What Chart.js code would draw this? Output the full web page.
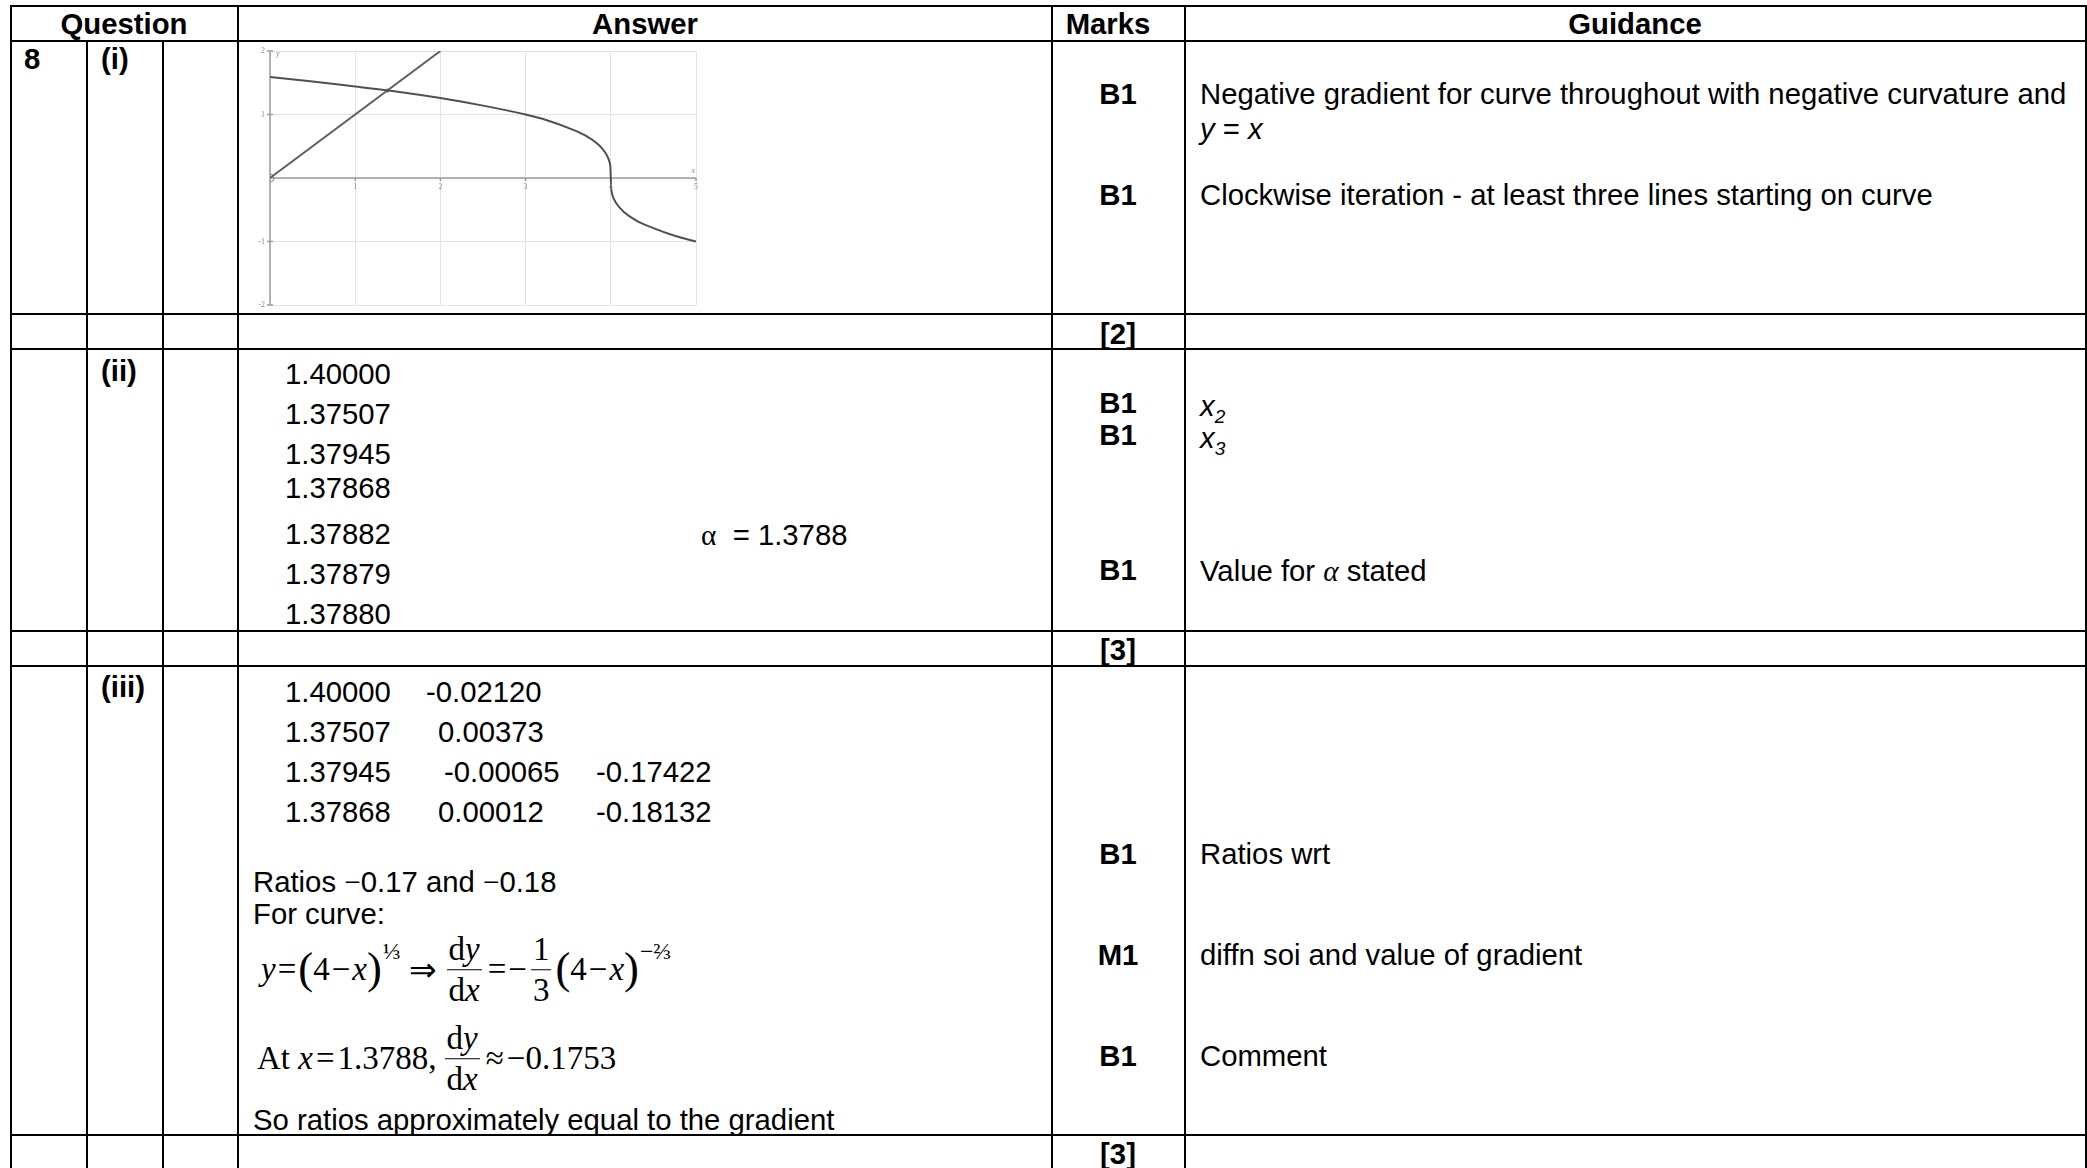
<!DOCTYPE html>
<html>
<head>
<meta charset="utf-8">
<script src="https://cdn.jsdelivr.net/npm/chart.js@4.4.0/dist/chart.umd.min.js"></script>
<style>
  html, body { margin: 0; padding: 0; background: #fff; }
  body { width: 2087px; height: 1168px; position: relative; overflow: hidden; }
  .h { position: absolute; height: 2px; background: #000; }
  .v { position: absolute; width: 2px; background: #000; }
  .t { position: absolute; font: 29.3px "Liberation Sans", Arial, sans-serif; line-height: 33px;
       margin-top: -16px; white-space: pre; color: #000; }
  .c { transform: translateX(-50%); }
  .b { font-weight: bold; }
  .gr { font-family: "Liberation Serif", "Times New Roman", serif; }
  .eq { position: absolute; font: 33px "Liberation Serif", "Times New Roman", serif; white-space: nowrap;
        transform: translateY(-50%); display: flex; align-items: center; }
  .frac { display: inline-flex; flex-direction: column; align-items: center; margin: 0 4px; line-height: 1.22; }
  .frac .n { border-bottom: 1.5px solid #000; padding: 0 2px; }
  .frac .d { padding: 0 2px; }
  .big { font-size: 1.35em; line-height: 1; position: relative; top: -0.03em; }
  .op { margin: 0 2px; }
  .sup { font-size: 0.72em; position: relative; top: -0.75em; margin-left: 1px; }
  #chartBox { position: absolute; left: 240px; top: 44px; width: 470px; height: 266px; }
</style>
</head>
<body>

<!-- table rules -->
<div class="h" style="left:11px; width:2076px; top:5px"></div>
<div class="h" style="left:11px; width:2076px; top:40px"></div>
<div class="h" style="left:11px; width:2076px; top:313px"></div>
<div class="h" style="left:11px; width:2076px; top:348px"></div>
<div class="h" style="left:11px; width:2076px; top:630px"></div>
<div class="h" style="left:11px; width:2076px; top:665px"></div>
<div class="h" style="left:11px; width:2076px; top:1134px"></div>

<div class="v" style="left:10px; top:5px; height:1163px"></div>
<div class="v" style="left:86px; top:40px; height:1128px"></div>
<div class="v" style="left:162px; top:40px; height:1128px"></div>
<div class="v" style="left:237px; top:5px; height:1163px"></div>
<div class="v" style="left:1051px; top:5px; height:1163px"></div>
<div class="v" style="left:1184px; top:5px; height:1163px"></div>
<div class="v" style="left:2085px; top:5px; height:1163px"></div>

<!-- header -->
<div class="t b c" style="left:124px; top:23px">Question</div>
<div class="t b c" style="left:645px; top:23px">Answer</div>
<div class="t b c" style="left:1108px; top:23px">Marks</div>
<div class="t b c" style="left:1635px; top:23px">Guidance</div>

<!-- 8 (i) -->
<div class="t b" style="left:24px; top:58px">8</div>
<div class="t b" style="left:101px; top:58px">(i)</div>
<div id="chartBox"><canvas id="graph" width="470" height="266"></canvas></div>
<div class="t b c" style="left:1118px; top:93px">B1</div>
<div class="t b c" style="left:1118px; top:194px">B1</div>
<div class="t" style="left:1200px; top:93px">Negative gradient for curve throughout with negative curvature and</div>
<div class="t" style="left:1200px; top:128px"><i>y</i> = <i>x</i></div>
<div class="t" style="left:1200px; top:194px">Clockwise iteration - at least three lines starting on curve</div>
<div class="t b c" style="left:1118px; top:333px">[2]</div>

<!-- (ii) -->
<div class="t b" style="left:101px; top:370px">(ii)</div>
<div class="t" style="left:285px; top:373px">1.40000</div>
<div class="t" style="left:285px; top:413px">1.37507</div>
<div class="t" style="left:285px; top:453px">1.37945</div>
<div class="t" style="left:285px; top:487px">1.37868</div>
<div class="t" style="left:285px; top:533px">1.37882</div>
<div class="t" style="left:285px; top:573px">1.37879</div>
<div class="t" style="left:285px; top:613px">1.37880</div>
<div class="t" style="left:701px; top:534px"><span class="gr">α</span>  = 1.3788</div>
<div class="t b c" style="left:1118px; top:402px">B1</div>
<div class="t b c" style="left:1118px; top:434px">B1</div>
<div class="t b c" style="left:1118px; top:569px">B1</div>
<div class="t" style="left:1200px; top:405px"><i>x<sub style="font-size:0.65em">2</sub></i></div>
<div class="t" style="left:1200px; top:437px"><i>x<sub style="font-size:0.65em">3</sub></i></div>
<div class="t" style="left:1200px; top:570px">Value for <i class="gr">α</i> stated</div>
<div class="t b c" style="left:1118px; top:649px">[3]</div>

<!-- (iii) -->
<div class="t b" style="left:101px; top:686px">(iii)</div>
<div class="t" style="left:285px; top:691px">1.40000</div>
<div class="t" style="left:426px; top:691px">-0.02120</div>
<div class="t" style="left:285px; top:731px">1.37507</div>
<div class="t" style="left:438px; top:731px">0.00373</div>
<div class="t" style="left:285px; top:771px">1.37945</div>
<div class="t" style="left:444px; top:771px">-0.00065</div>
<div class="t" style="left:596px; top:771px">-0.17422</div>
<div class="t" style="left:285px; top:811px">1.37868</div>
<div class="t" style="left:438px; top:811px">0.00012</div>
<div class="t" style="left:596px; top:811px">-0.18132</div>
<div class="t" style="left:253px; top:881px">Ratios <span class="gr">−</span>0.17 and <span class="gr">−</span>0.18</div>
<div class="t" style="left:253px; top:913px">For curve:</div>
<div class="eq" style="left:261px; top:970px">
  <i>y</i><span class="op">=</span><span class="big">(</span>4<span class="op">−</span><i>x</i><span class="big">)</span><span class="sup">⅓</span><span class="op" style="margin:0 6px 0 8px">⇒</span><span class="frac"><span class="n">d<i>y</i></span><span class="d">d<i>x</i></span></span><span class="op">=</span>−<span class="frac"><span class="n">1</span><span class="d">3</span></span><span class="big">(</span>4<span class="op">−</span><i>x</i><span class="big">)</span><span class="sup">−⅔</span>
</div>
<div class="eq" style="left:257px; top:1059px">
  At&nbsp;<i>x</i><span class="op" style="margin:0 3px">=</span>1.3788,<span class="frac" style="margin-left:8px"><span class="n">d<i>y</i></span><span class="d">d<i>x</i></span></span><span style="margin:0 3px 0 2px">≈</span>−0.1753
</div>
<div class="t" style="left:253px; top:1119px">So ratios approximately equal to the gradient</div>
<div class="t b c" style="left:1118px; top:853px">B1</div>
<div class="t b c" style="left:1118px; top:954px">M1</div>
<div class="t b c" style="left:1118px; top:1055px">B1</div>
<div class="t" style="left:1200px; top:853px">Ratios wrt</div>
<div class="t" style="left:1200px; top:954px">diffn soi and value of gradient</div>
<div class="t" style="left:1200px; top:1055px">Comment</div>
<div class="t b c" style="left:1118px; top:1153px">[3]</div>

<script>
// valores: la curva y la recta y = x
const curveX = [0, 0.5, 1, 1.5, 2, 2.5, 3, 3.25, 3.5, 3.7, 3.85, 3.93, 3.96, 3.985, 3.995, 4,
                4.005, 4.015, 4.04, 4.07, 4.15, 4.3, 4.5, 4.75, 5];
const curveY = [1.59, 1.52, 1.44, 1.36, 1.26, 1.14, 1.0, 0.91, 0.79, 0.67, 0.53, 0.41, 0.34, 0.25, 0.17, 0,
                -0.17, -0.25, -0.34, -0.41, -0.53, -0.67, -0.79, -0.91, -1.0];
const lineX = [0, 2];
const lineY = [0, 2];
const rootX = [1.3788];
const rootY = [1.3788];
const originX = [0];
const originY = [0];
const xTickValues = [1, 2, 3, 4, 5];
const xTickLabels = ['1', '2', '3', '4', '5'];
const yTickValues = [2, 1, -1, -2];
const yTickLabels = ['2', '1', '-1', '-2'];

const toPoints = (xs, ys) => xs.map((x, i) => ({ x, y: ys[i] }));

// ejes, marcas y etiquetas pequeñas dibujados sobre las escalas de Chart.js
const axesPlugin = {
    id: 'axesPlugin',
    beforeDatasetsDraw(chart) {
        const { ctx, scales: { x, y } } = chart;
        const x0 = x.getPixelForValue(0), y0 = y.getPixelForValue(0);
        ctx.save();
        ctx.strokeStyle = '#9c9c9c';
        ctx.lineWidth = 1.5;
        ctx.beginPath();
        ctx.moveTo(x0, y.getPixelForValue(2));
        ctx.lineTo(x0, y.getPixelForValue(-2));
        ctx.moveTo(x0, y0);
        ctx.lineTo(x.getPixelForValue(5), y0);
        yTickValues.forEach(v => {
            const py = y.getPixelForValue(v);
            ctx.moveTo(x0 - 3, py); ctx.lineTo(x0 + 3, py);
        });
        xTickValues.forEach(v => {
            const px = x.getPixelForValue(v);
            ctx.moveTo(px, y0); ctx.lineTo(px, y0 + 3);
        });
        ctx.stroke();
        ctx.restore();
    },
    afterDraw(chart) {
        const { ctx, scales: { x, y } } = chart;
        const x0 = x.getPixelForValue(0), y0 = y.getPixelForValue(0);
        ctx.save();
        ctx.fillStyle = '#8a8a8a';
        ctx.font = '8px "Liberation Serif", serif';
        ctx.textAlign = 'right';
        ctx.textBaseline = 'middle';
        yTickValues.forEach((v, i) => ctx.fillText(yTickLabels[i], x0 - 5, y.getPixelForValue(v)));
        ctx.textAlign = 'center';
        ctx.textBaseline = 'top';
        xTickValues.forEach((v, i) => ctx.fillText(xTickLabels[i], x.getPixelForValue(v), y0 + 5));
        ctx.font = 'italic 8px "Liberation Serif", serif';
        ctx.textAlign = 'left';
        ctx.fillText('y', x0 + 6, y.getPixelForValue(2) - 1);
        ctx.textAlign = 'right';
        ctx.textBaseline = 'bottom';
        ctx.fillText('x', x.getPixelForValue(5) - 1, y0 - 3);
        ctx.restore();
    }
};

new Chart(document.getElementById('graph'), {
    type: 'scatter',
    data: {
        datasets: [
            {
                label: 'curve',
                data: toPoints(curveX, curveY),
                showLine: true,
                borderColor: '#505050',
                borderWidth: 2,
                pointRadius: 0,
                cubicInterpolationMode: 'monotone'
            },
            {
                label: 'y = x',
                data: toPoints(lineX, lineY),
                showLine: true,
                borderColor: '#606060',
                borderWidth: 2,
                pointRadius: 0
            },
            {
                label: 'root',
                data: toPoints(rootX, rootY),
                pointRadius: 2,
                backgroundColor: '#2f9b2f',
                borderWidth: 0
            },
            {
                label: 'origin',
                data: toPoints(originX, originY),
                pointRadius: 4,
                backgroundColor: 'rgba(0,0,0,0)',
                borderColor: '#8a8a8a',
                borderWidth: 1
            }
        ]
    },
    options: {
        responsive: false,
        animation: false,
        events: [],
        layout: { padding: { left: 30, top: 7, right: 14, bottom: 5 } },
        plugins: { legend: { display: false }, tooltip: { enabled: false } },
        scales: {
            x: {
                type: 'linear', min: 0, max: 5,
                ticks: { display: false, stepSize: 1 },
                grid: { color: '#e4e4e4', drawTicks: false },
                border: { display: false }
            },
            y: {
                type: 'linear', min: -2, max: 2,
                ticks: { display: false, stepSize: 1 },
                grid: { color: '#e4e4e4', drawTicks: false },
                border: { display: false }
            }
        }
    },
    plugins: [axesPlugin]
});
</script>
</body>
</html>
